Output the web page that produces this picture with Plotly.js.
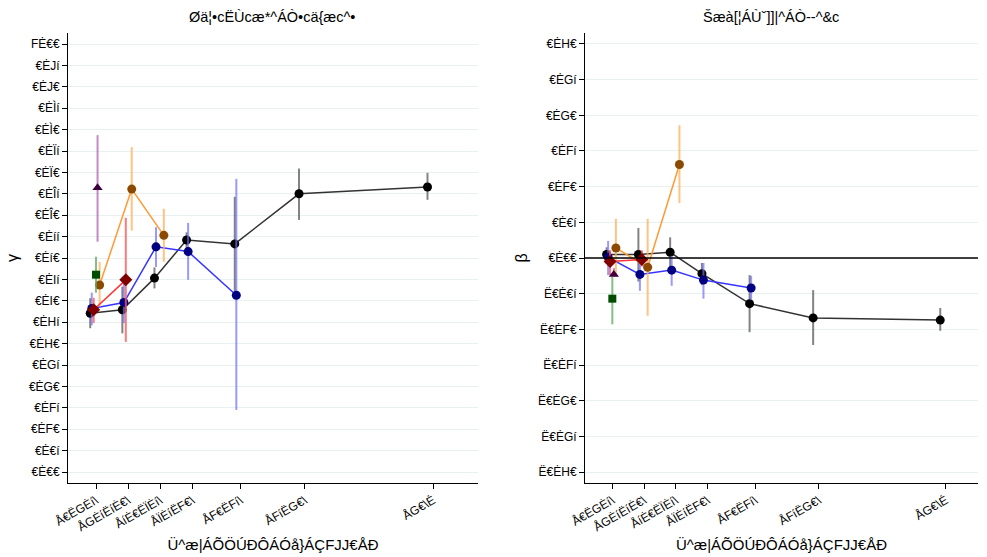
<!DOCTYPE html>
<html>
<head>
<meta charset="utf-8">
<script src="https://cdn.plot.ly/plotly-3.0.1.min.js"></script>
<style>html,body{margin:0;padding:0;background:#fff;}#chart{width:987px;height:557px;}</style>
</head>
<body>
<div id="chart"></div>
<script>
// ---- data ----
const xMid = [1.25, 3.75, 6.25, 8.75, 12.5, 17.5, 27.5];
const xTickText = ["Å€ËGĖí\\", "ÅGĖíËíĖ€\\", "ÅíĖ€ËÏĖí\\", "ÅÏĖíËF€\\", "ÅF€ËFí\\", "ÅFíËG€\\", "ÅG€\\É"];

const gammaTickVals = [0,0.05,0.1,0.15,0.2,0.25,0.3,0.35,0.4,0.45,0.5,0.55,0.6,0.65,0.7,0.75,0.8,0.85,0.9,0.95,1.0];
const gammaTickText = ["€Ė€€","€Ė€í","€ĖF€","€ĖFí","€ĖG€","€ĖGí","€ĖH€","€ĖHí","€ĖI€","€ĖIí","€Ėí€","€Ėíí","€ĖÎ€","€ĖÎí","€ĖÏ€","€ĖÏí","€ĖÌ€","€ĖÌí","€ĖJ€","€ĖJí","FĖ€€"];
const betaTickVals = [-0.3,-0.25,-0.2,-0.15,-0.1,-0.05,0,0.05,0.1,0.15,0.2,0.25,0.3];
const betaTickText = ["Ë€ĖH€","Ë€ĖGí","Ë€ĖG€","Ë€ĖFí","Ë€ĖF€","Ë€Ė€í","€Ė€€","€Ė€í","€ĖF€","€ĖFí","€ĖG€","€ĖGí","€ĖH€"];

const titleLeft = "Øä¦•cËÙcæ*^ÁÒ•cä{æc^•";
const titleRight = "Šæà[¦ÁÙˇ]]|^ÁÒ--^&c";
const xTitle = "Ü^æ|ÁÕÖÚÐÔÁÓå}ÁÇFJJ€ÅĐ";

// gamma (first-stage)
const gammaBlack   = [0.371, 0.379, 0.453, 0.542, 0.533, 0.650, 0.666];
const gammaBlackLo = [0.336, 0.324, 0.429, 0.523, 0.423, 0.589, 0.636];
const gammaBlackHi = [0.406, 0.433, 0.478, 0.560, 0.643, 0.709, 0.699];
const gammaBlue    = [0.382, 0.396, 0.526, 0.515, 0.413];
const gammaBlueLo  = [0.343, 0.348, 0.479, 0.449, 0.145];
const gammaBlueHi  = [0.419, 0.442, 0.572, 0.582, 0.685];
const gammaOrange   = [0.437, 0.661, 0.553];
const gammaOrangeLo = [0.386, 0.564, 0.491];
const gammaOrangeHi = [0.491, 0.759, 0.615];
const gammaRed   = [0.379, 0.449];
const gammaRedLo = [0.348, 0.304];
const gammaRedHi = [0.407, 0.594];
const gammaGreen   = [0.461];
const gammaGreenLo = [0.419];
const gammaGreenHi = [0.503];
const gammaPurple   = [0.664];
const gammaPurpleLo = [0.538];
const gammaPurpleHi = [0.787];

// beta (labor supply)
const betaBlack   = [0.005, 0.005, 0.008, -0.022, -0.064, -0.084, -0.087];
const betaBlackLo = [-0.008, -0.033, -0.015, -0.038, -0.104, -0.122, -0.102];
const betaBlackHi = [0.015, 0.042, 0.029, -0.007, -0.024, -0.045, -0.070];
const betaBlue    = [0.001, -0.023, -0.017, -0.031, -0.042];
const betaBlueLo  = [-0.024, -0.046, -0.039, -0.057, -0.059];
const betaBlueHi  = [0.024, -0.008, 0.003, -0.007, -0.025];
const betaOrange   = [0.014, -0.013, 0.131];
const betaOrangeLo = [-0.026, -0.081, 0.077];
const betaOrangeHi = [0.055, 0.055, 0.186];
const betaRed   = [-0.005, -0.002];
const betaRedLo = [-0.024, -0.012];
const betaRedHi = [0.011, 0.011];
const betaGreen   = [-0.057];
const betaGreenLo = [-0.093];
const betaGreenHi = [-0.026];
const betaPurple   = [-0.023];
const betaPurpleLo = [-0.026];
const betaPurpleHi = [-0.014];

// ---- styles ----
const FONT = "Liberation Sans, Arial, Helvetica, sans-serif";
const series = [
  {key:"Black",  dodge:-0.45, line:"#333333", marker:"#000000", err:"rgba(90,90,90,0.75)",   symbol:"circle",  size:9, mode:"lines+markers"},
  {key:"Blue",   dodge:-0.33, line:"#3535ff", marker:"#000080", err:"rgba(110,110,255,0.7)", symbol:"circle",  size:9, mode:"lines+markers"},
  {key:"Orange", dodge: 0.28, line:"#ff9933", marker:"#8b4a00", err:"rgba(255,175,90,0.75)", symbol:"circle",  size:9, mode:"lines+markers"},
  {key:"Red",    dodge:-0.18, line:"#ff3333", marker:"#800000", err:"rgba(255,90,90,0.8)",   symbol:"diamond", size:10, mode:"lines+markers"},
  {key:"Green",  dodge: 0.00, line:"#006400", marker:"#004d00", err:"rgba(90,170,90,0.75)",  symbol:"square",  size:8, mode:"markers"},
  {key:"Purple", dodge: 0.12, line:"#400040", marker:"#3d003d", err:"rgba(180,110,180,0.8)", symbol:"triangle-up", size:9, mode:"markers"}
];
const dataSets = {
  gamma: {Black:[gammaBlack,gammaBlackLo,gammaBlackHi], Blue:[gammaBlue,gammaBlueLo,gammaBlueHi], Orange:[gammaOrange,gammaOrangeLo,gammaOrangeHi], Red:[gammaRed,gammaRedLo,gammaRedHi], Green:[gammaGreen,gammaGreenLo,gammaGreenHi], Purple:[gammaPurple,gammaPurpleLo,gammaPurpleHi]},
  beta:  {Black:[betaBlack,betaBlackLo,betaBlackHi], Blue:[betaBlue,betaBlueLo,betaBlueHi], Orange:[betaOrange,betaOrangeLo,betaOrangeHi], Red:[betaRed,betaRedLo,betaRedHi], Green:[betaGreen,betaGreenLo,betaGreenHi], Purple:[betaPurple,betaPurpleLo,betaPurpleHi]}
};

const traces = [];
[["gamma","x","y"],["beta","x2","y2"]].forEach(([name, xa, ya]) => {
  series.forEach(s => {
    const [v, lo, hi] = dataSets[name][s.key];
    traces.push({
      type:"scatter", mode:s.mode, xaxis:xa, yaxis:ya, showlegend:false,
      x: v.map((_, i) => xMid[i] + s.dodge),
      y: v,
      line:{color:s.line, width:1.5},
      marker:{color:s.marker, symbol:s.symbol, size:s.size},
      error_y:{type:"data", symmetric:false, array:v.map((y,i)=>hi[i]-y), arrayminus:v.map((y,i)=>y-lo[i]), color:s.err, thickness:2, width:0},
      hoverinfo:"skip"
    });
  });
});

const H = 557, W = 987;
const yDom = [(H-483)/H, (H-33)/H];
const axisCommon = {showline:true, linecolor:"#000", linewidth:1, ticks:"outside", ticklen:5, tickcolor:"#000", zeroline:false, tickfont:{family:FONT, size:12, color:"#000"}};
const xCommon = Object.assign({}, axisCommon, {tickmode:"array", tickvals:xMid, ticktext:xTickText, tickangle:-30, showgrid:false, title:{text:xTitle, font:{family:FONT, size:15, color:"#000"}, standoff:6}});

const layout = {
  width:W, height:H, margin:{l:0,r:0,t:0,b:0}, paper_bgcolor:"#fff", plot_bgcolor:"#fff",
  font:{family:FONT, color:"#000"},
  xaxis: Object.assign({}, xCommon, {domain:[68/W, 478/W], range:[-0.93, 30.98], anchor:"y"}),
  xaxis2: Object.assign({}, xCommon, {domain:[585/W, 978/W], range:[-0.9, 30.02], anchor:"y2"}),
  yaxis: Object.assign({}, axisCommon, {domain:yDom, range:[-0.0257, 1.0257], tickmode:"array", tickvals:gammaTickVals, ticktext:gammaTickText, showgrid:true, gridcolor:"#e8f0f2", gridwidth:1, anchor:"x", title:{text:"γ", font:{family:FONT, size:16, color:"#000"}, standoff:6}}),
  yaxis2: Object.assign({}, axisCommon, {domain:yDom, range:[-0.3154, 0.3154], tickmode:"array", tickvals:betaTickVals, ticktext:betaTickText, showgrid:true, gridcolor:"#e8f0f2", gridwidth:1, anchor:"x2", title:{text:"β", font:{family:FONT, size:16, color:"#000"}, standoff:6}}),
  shapes:[{type:"line", xref:"x2 domain", yref:"y2", x0:0, x1:1, y0:0, y1:0, line:{color:"#000", width:1.5}, layer:"above"}],
  annotations:[
    {text:titleLeft, xref:"paper", yref:"paper", x:272/W, y:(H-17)/H, xanchor:"center", yanchor:"middle", showarrow:false, font:{family:FONT, size:14.5, color:"#000"}},
    {text:titleRight, xref:"paper", yref:"paper", x:771/W, y:(H-17)/H, xanchor:"center", yanchor:"middle", showarrow:false, font:{family:FONT, size:14.5, color:"#000"}}
  ]
};
Plotly.newPlot("chart", traces, layout, {displayModeBar:false, staticPlot:true});
</script>
</body>
</html>
